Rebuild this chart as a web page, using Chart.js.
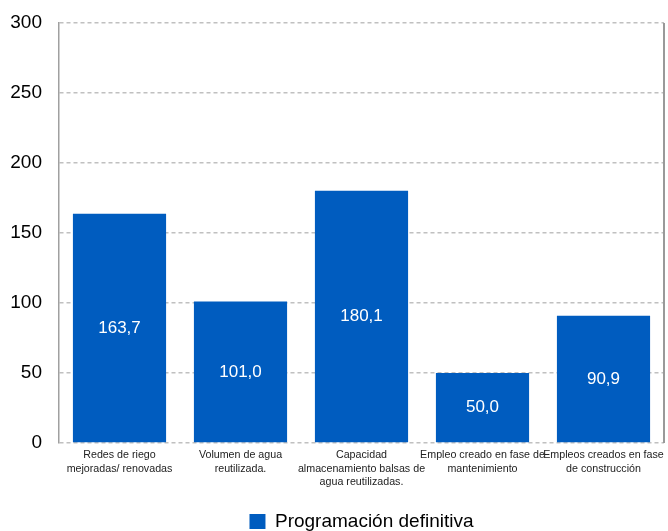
<!DOCTYPE html>
<html>
<head>
<meta charset="utf-8">
<script src="https://cdn.jsdelivr.net/npm/chart.js@4"></script>
<style>
  html, body { margin: 0; padding: 0; background: #fff; }
  #wrap { width: 668px; height: 531px; }
</style>
</head>
<body>
<div id="wrap"><canvas id="grafico"></canvas></div>
<script>
// categorias (multi-linea como en el original)
var categorias = [
    ["Redes de riego", "mejoradas/ renovadas"],
    ["Volumen de agua", "reutilizada."],
    ["Capacidad", "almacenamiento balsas de", "agua reutilizadas."],
    ["Empleo creado en fase de", "mantenimiento"],
    ["Empleos creados en fase", "de construcción"]
];
var valores = [163.7, 101.0, 180.1, 50.0, 90.9];
var serie = "Programación definitiva";
var ticksY = [0, 50, 100, 150, 200, 250, 300];

var fuente = '"Liberation Sans", Arial, sans-serif';

// etiquetas dentro de las barras
var etiquetasBarras = {
    id: 'etiquetasBarras',
    afterDatasetsDraw: function(chart) {
        var ctx = chart.ctx;
        var meta = chart.getDatasetMeta(0);
        ctx.save();
        ctx.fillStyle = '#ffffff';
        ctx.font = '17px ' + fuente;
        ctx.textAlign = 'center';
        ctx.textBaseline = 'middle';
        meta.data.forEach(function(bar, i) {
            var txt = valores[i].toFixed(1).replace('.', ',');
            ctx.fillText(txt, bar.x, (bar.y + bar.base) / 2);
        });
        ctx.restore();
    }
};

// borde derecho del area + bajar un poco la leyenda
var bordeDerecho = {
    id: 'bordeDerecho',
    beforeDraw: function(chart) {
        if (chart.legend) {
            chart.legend.top += 10;
            chart.legend.bottom += 10;
        }
    },
    afterDraw: function(chart) {
        var a = chart.chartArea;
        var ctx = chart.ctx;
        ctx.save();
        ctx.strokeStyle = '#999999';
        ctx.lineWidth = 2;
        ctx.beginPath();
        ctx.moveTo(a.right, a.top);
        ctx.lineTo(a.right, a.bottom);
        ctx.stroke();
        ctx.restore();
    }
};

var ctx = document.getElementById("grafico").getContext('2d');
var grafico = new Chart(ctx, {
    type: 'bar',
    data: {
        labels: categorias,
        datasets: [{
            label: serie,
            data: valores,
            backgroundColor: '#005CBF',
            borderWidth: 0,
            categoryPercentage: 1,
            barPercentage: 0.77
        }]
    },
    options: {
        responsive: true,
        maintainAspectRatio: false,
        animation: false,
        layout: { padding: { left: 0, right: 4, top: 23, bottom: 0 } },
        plugins: {
            tooltip: { enabled: false },
            legend: {
                position: 'bottom',
                fullSize: false,
                labels: {
                    boxWidth: 16,
                    boxHeight: 15,
                    padding: 4,
                    color: '#000',
                    font: { size: 19, family: fuente }
                }
            }
        },
        scales: {
            x: {
                grid: { display: false, drawTicks: false },
                border: { display: false },
                afterFit: function(scale) {
                    scale.height = 55;
                    scale.paddingLeft = 0;
                    scale.paddingRight = 0;
                },
                ticks: {
                    color: '#222',
                    maxRotation: 0,
                    autoSkip: false,
                    padding: 6,
                    font: { size: 10.7, family: fuente, lineHeight: 1.22 }
                }
            },
            y: {
                min: 0,
                max: 300,
                afterBuildTicks: function(axis) {
                    axis.ticks = ticksY.map(function(v) { return { value: v }; });
                },
                afterFit: function(scale) {
                    scale.width = 59;
                    scale.paddingTop = 0;
                    scale.paddingBottom = 0;
                },
                grid: {
                    color: '#c0c0c0',
                    lineWidth: 1.5,
                    drawTicks: false
                },
                border: { display: true, color: '#a0a0a0', width: 1.5, dash: [4, 3] },
                ticks: {
                    color: '#000',
                    padding: 17,
                    font: { size: 19, family: fuente }
                }
            }
        }
    },
    plugins: [etiquetasBarras, bordeDerecho]
});
</script>
</body>
</html>
